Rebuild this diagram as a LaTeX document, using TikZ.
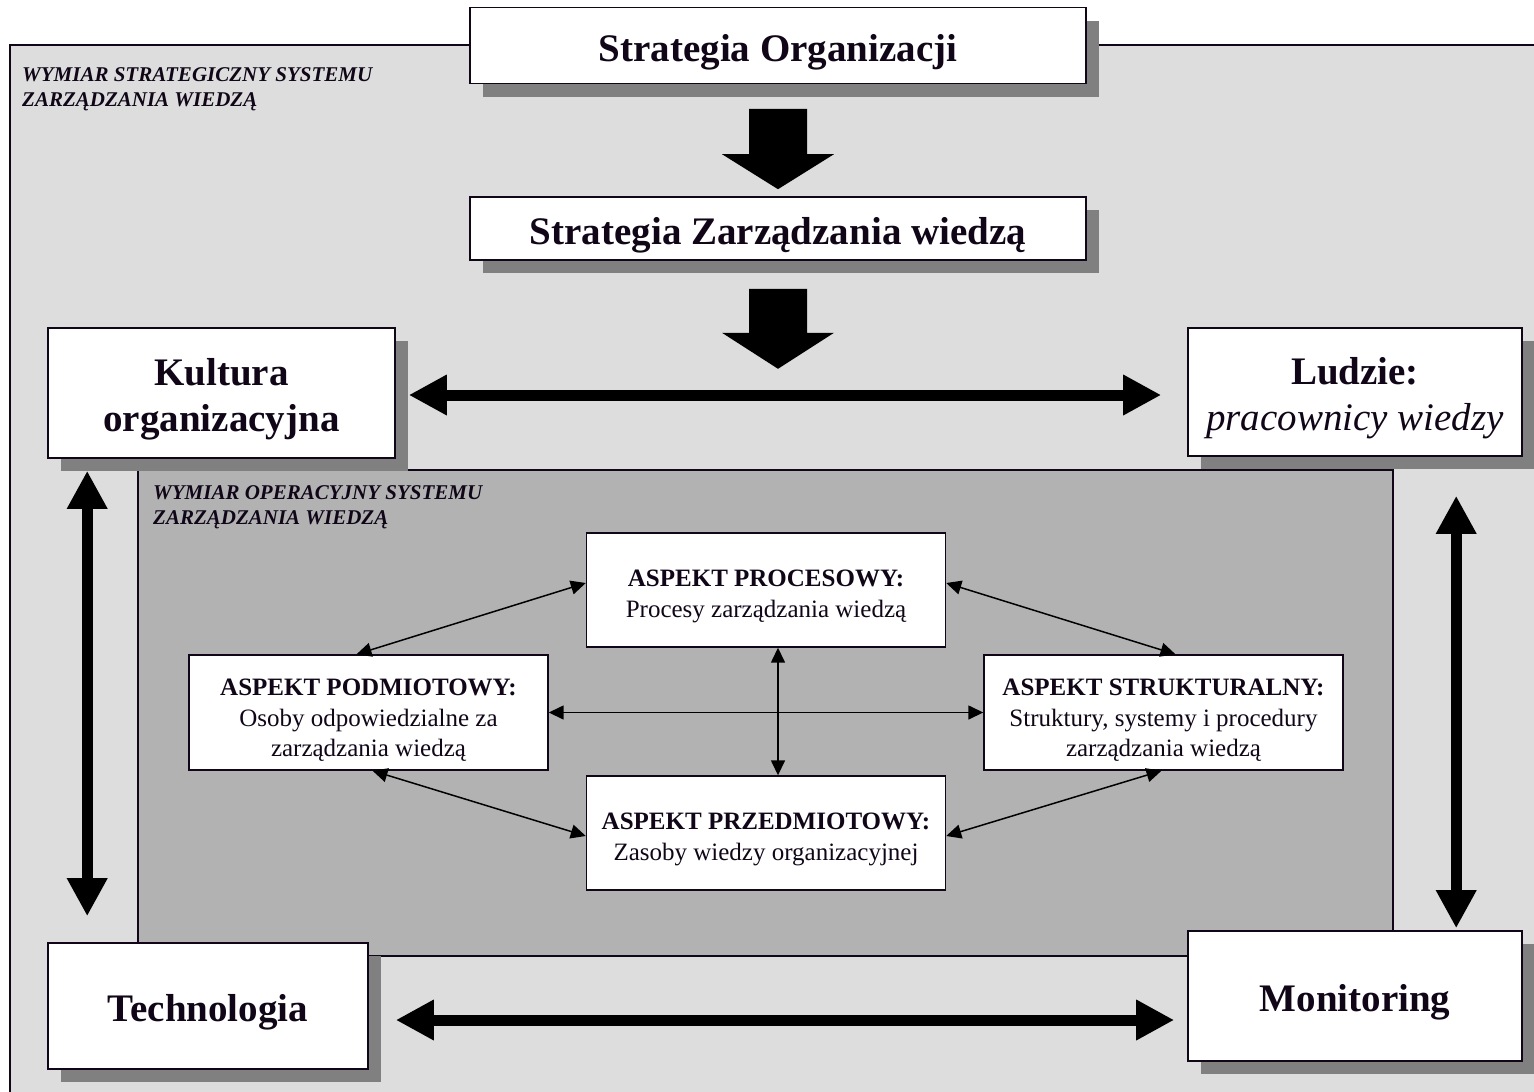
\documentclass[tikz,border=0pt]{standalone}
\usepackage{fontspec}
\setmainfont{Liberation Serif}
\usetikzlibrary{arrows.meta,calc,shadows}
\definecolor{outerg}{RGB}{221,221,221}
\definecolor{innerg}{RGB}{178,178,178}
\definecolor{shg}{RGB}{128,128,128}
\definecolor{ink}{RGB}{16,6,24}
\newcommand\bigfnt{\fontsize{39}{46}\selectfont\bfseries}
\newcommand\midfnt{\fontsize{25}{30.5}\selectfont}
\newcommand\labfnt{\fontsize{21}{25}\selectfont\bfseries\itshape}
\newcommand\lift[1]{\rule{0pt}{#1}}
\begin{document}
\begin{tikzpicture}[x=1pt,y=-1pt,
  shbox/.style={draw=ink, line width=1.6pt, fill=white, inner sep=0pt, align=center, text=ink,
    general shadow={fill=shg, draw=none, shadow xshift=13pt, shadow yshift=-13pt}},
  bigbox/.style={shbox, font=\bigfnt},
  aspbox/.style={draw=ink, line width=1.4pt, fill=white, inner sep=0pt, align=center, text=ink,
    font=\midfnt, minimum width=359pt, minimum height=114pt},
  lab/.style={anchor=north west, inner sep=0pt, align=left, font=\labfnt, text=ink},
  fatarr/.style={draw=black, line width=11pt,
    {Triangle[length=38pt,width=38pt]}-{Triangle[length=38pt,width=38pt]}},
  thinarr/.style={draw=black, line width=1.5pt,
    {Triangle[length=15pt,width=14pt]}-{Triangle[length=15pt,width=14pt]}}
]
\useasboundingbox (0,0) rectangle (1534,1092);
\clip (0,0) rectangle (1534,1092);

% outer strategic frame
\path[fill=outerg, draw=ink, line width=1.8pt] (10,45) rectangle (1600,1150);
\node[lab] (labs) at (22,67) {WYMIAR STRATEGICZNY SYSTEMU\\ZARZĄDZANIA WIEDZĄ};

% strategy boxes
\node[bigbox, minimum width=616pt, minimum height=76pt] (so) at (778,45.5) {\lift{40pt}Strategia Organizacji};
\node[bigbox, minimum width=616pt, minimum height=63pt] (sz) at (778,228.5) {\lift{40pt}Strategia Zarządzania wiedzą};

% block arrows
\coordinate (a1top) at ($(so.south)+(0,24.5)$);
\coordinate (a1tip) at ($(sz.north)+(0,-7)$);
\coordinate (a2top) at ($(sz.south)+(0,28)$);
\coordinate (a2tip) at ($(sz.south)+(0,108)$);
\fill[black] ($(a1top)+(-29,0)$) -- ($(a1top)+(29,0)$) -- ($(a1tip)+(29,-35)$) -- ($(a1tip)+(56,-35)$)
  -- (a1tip) -- ($(a1tip)+(-56,-35)$) -- ($(a1tip)+(-29,-35)$) -- cycle;
\fill[black] ($(a2top)+(-29,0)$) -- ($(a2top)+(29,0)$) -- ($(a2tip)+(29,-36)$) -- ($(a2tip)+(56,-36)$)
  -- (a2tip) -- ($(a2tip)+(-56,-36)$) -- ($(a2tip)+(-29,-36)$) -- cycle;

% inner operational frame
\path[fill=innerg, draw=ink, line width=1.4pt] (138,470) rectangle (1393,956);
\node[lab] (labo) at (153,485) {WYMIAR OPERACYJNY SYSTEMU\\ZARZĄDZANIA WIEDZĄ};

% corner boxes
\node[bigbox, minimum width=347pt, minimum height=130pt] (kult) at (221.5,393) {\lift{39pt}Kultura\\organizacyjna};
\node[bigbox, minimum width=334pt, minimum height=128pt] (ludz) at (1355,392) {\lift{40pt}Ludzie:\\\lift{34pt}{\mdseries\itshape pracownicy wiedzy}};
\node[bigbox, minimum width=320pt, minimum height=126pt] (tech) at (208,1006) {\lift{40pt}Technologia};
\node[bigbox, minimum width=334pt, minimum height=130pt] (mon) at (1355,996) {\lift{40pt}Monitoring};

% fat double arrows
\draw[fatarr] ($(kult.east)+(13,2)$) -- ($(ludz.west)+(-26,3)$);
\draw[fatarr] ($(tech.east)+(27,14)$) -- ($(mon.west)+(-13,24)$);
\draw[fatarr] ($(kult.south west)+(40,12)$) -- ($(tech.north west)+(40,-26)$);
\draw[fatarr] ($(ludz.south west)+(269,39)$) -- ($(mon.north west)+(269,-2)$);

% aspect boxes
\node[aspbox] (proc) at (766,590) {\lift{29pt}\textbf{ASPEKT PROCESOWY:}\\Procesy zarządzania wiedzą};
\node[aspbox, minimum height=115pt] (podm) at (368.5,712.5) {\lift{32pt}\textbf{ASPEKT PODMIOTOWY:}\\Osoby odpowiedzialne za\\zarządzania wiedzą};
\node[aspbox, minimum height=115pt] (strukt) at (1163.5,712.5) {\lift{32pt}\textbf{ASPEKT STRUKTURALNY:}\\Struktury, systemy i procedury\\zarządzania wiedzą};
\node[aspbox] (przed) at (766,833) {\lift{29pt}\textbf{ASPEKT PRZEDMIOTOWY:}\\Zasoby wiedzy organizacyjnej};

% thin double arrows
\draw[thinarr] ($(proc.south)+(12,0)$) -- ($(przed.north)+(12,0)$);
\draw[thinarr] (podm.east) -- (strukt.west);
\draw[thinarr] ($(proc.west)+(0,-7)$) -- ($(podm.north)+(-12,0)$);
\draw[thinarr] ($(proc.east)+(0,-7)$) -- ($(strukt.north)+(12,0)$);
\draw[thinarr] ($(podm.south)+(4,0)$) -- ($(przed.west)+(0,3)$);
\draw[thinarr] ($(strukt.south)+(-2,0)$) -- ($(przed.east)+(0,3)$);
\end{tikzpicture}
\end{document}
